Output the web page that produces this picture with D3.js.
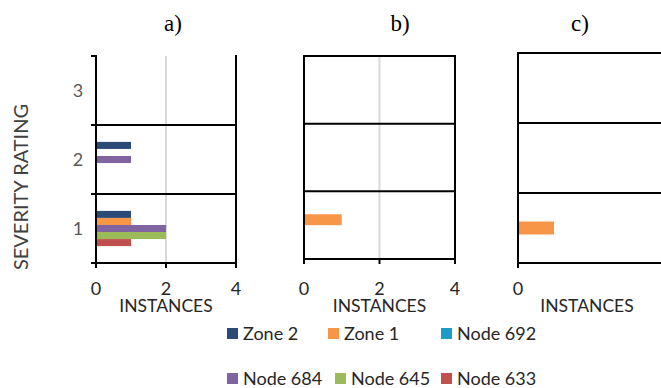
<!DOCTYPE html>
<html>
<head>
<meta charset="utf-8">
<script src="https://cdn.jsdelivr.net/npm/d3@7"></script>
<style>
  body { margin: 0; background: #fff; overflow: hidden; }
  svg { display: block; }
</style>
</head>
<body>
<div id="chart"></div>
<script>
// categories, top to bottom as drawn
const categories = ["3", "2", "1"];
const seriesNames = ["Zone 2", "Zone 1", "Node 692", "Node 684", "Node 645", "Node 633"];
const seriesColors = ["#2b4a78", "#f79646", "#1d9cc8", "#8064a2", "#9bbb59", "#c0504d"];

// per panel: which series take a slot, and their values for categories 3, 2, 1
const panelASeries = ["Zone 2", "Zone 1", "Node 684", "Node 645", "Node 633"];
const panelAValues = [[0, 1, 1], [0, 0, 1], [0, 1, 2], [0, 0, 2], [0, 0, 1]];
const panelBSeries = ["Zone 1", "Node 692"];
const panelBValues = [[0, 0, 1], [0, 0, 0]];
const panelCSeries = ["Zone 1"];
const panelCValues = [[0, 0, 1]];

const xTicksAB = [0, 2, 4];
const xTicksC = [0];

const W = 661, H = 388;
const color = d3.scaleOrdinal().domain(seriesNames).range(seriesColors);
const sans = "Lato, 'Open Sans', sans-serif";

const svg = d3.select("#chart").append("svg")
  .attr("width", W)
  .attr("height", H);

function drawPanel(p) {
  const g = svg.append("g");
  const x = d3.scaleLinear().domain([0, 4]).range([p.x0, p.x1]);
  const y = d3.scaleBand().domain(categories).range([p.y0, p.y1]).padding(0);
  const inner = d3.scaleBand().domain(p.series).range([0, y.bandwidth()])
    .paddingInner(0).paddingOuter(p.outer);

  // light gridline at 2
  if (p.grid) {
    g.append("line")
      .attr("x1", x(2)).attr("x2", x(2))
      .attr("y1", p.y0).attr("y2", p.y1)
      .attr("stroke", "#d9d9d9").attr("stroke-width", 2);
  }

  // bars
  p.series.forEach((s, i) => {
    g.selectAll(null)
      .data(p.values[i].map((v, j) => ({ v, cat: categories[j] })).filter(d => d.v > 0))
      .enter()
      .append("rect")
      .attr("x", x(0))
      .attr("y", d => y(d.cat) + inner(s))
      .attr("width", d => x(d.v) - x(0))
      .attr("height", inner.bandwidth())
      .attr("fill", color(s));
  });

  // band boundaries (horizontal black lines)
  const bounds = categories.map(c => y(c)).concat([p.y1]);
  bounds.forEach((b, i) => {
    if (i === 0 && !p.topLine) return;
    g.append("line")
      .attr("x1", p.leftTicks ? p.x0 - 5 : p.x0).attr("x2", Math.min(p.x1, W + 5))
      .attr("y1", b).attr("y2", b)
      .attr("stroke", "#000").attr("stroke-width", 2);
  });
  if (p.leftTicks && !p.topLine) {
    g.append("line")
      .attr("x1", p.x0 - 5).attr("x2", p.x0)
      .attr("y1", p.y0).attr("y2", p.y0)
      .attr("stroke", "#000").attr("stroke-width", 2);
  }

  // left axis line
  g.append("line")
    .attr("x1", p.x0).attr("x2", p.x0)
    .attr("y1", p.y0 - 1).attr("y2", p.y1 + 5)
    .attr("stroke", "#000").attr("stroke-width", 2);

  // right border
  if (p.rightLine) {
    g.append("line")
      .attr("x1", p.x1).attr("x2", p.x1)
      .attr("y1", p.y0 - 1).attr("y2", p.y1 + 5)
      .attr("stroke", "#000").attr("stroke-width", 2);
  }

  // bottom ticks and labels
  p.ticks.forEach(t => {
    g.append("line")
      .attr("x1", x(t)).attr("x2", x(t))
      .attr("y1", p.y1).attr("y2", p.y1 + 5)
      .attr("stroke", "#000").attr("stroke-width", 2);
    g.append("text")
      .attr("x", x(t)).attr("y", 295)
      .attr("text-anchor", "middle")
      .style("font-family", sans).style("font-size", "18px")
      .attr("fill", "#262626")
      .text(t);
  });

  g.append("text")
    .attr("x", (x(0) + x(4)) / 2 + (p.labelShift || 0)).attr("y", 312)
    .attr("text-anchor", "middle")
    .style("font-family", sans).style("font-size", "17.5px")
    .attr("fill", "#262626")
    .text("INSTANCES");

  if (p.yLabels) {
    categories.forEach(c => {
      g.append("text")
        .attr("x", 78).attr("y", y(c) + y.bandwidth() / 2 + 6)
        .attr("text-anchor", "middle")
        .style("font-family", sans).style("font-size", "18px")
        .attr("fill", "#595959")
        .text(c);
    });
  }

  g.append("text")
    .attr("x", p.titleX).attr("y", 31)
    .attr("text-anchor", "middle")
    .style("font-family", "'Liberation Serif', 'Times New Roman', serif")
    .style("font-size", "23px")
    .attr("fill", "#000")
    .text(p.title);
}

drawPanel({ title: "a)", titleX: 173, x0: 96, x1: 236, y0: 56, y1: 263,
  series: panelASeries, values: panelAValues, outer: 2.4,
  grid: true, topLine: false, rightLine: true, leftTicks: true,
  ticks: xTicksAB, yLabels: true });

drawPanel({ title: "b)", titleX: 400, x0: 304, x1: 455, y0: 56, y1: 259,
  series: panelBSeries, values: panelBValues, outer: 2.1,
  grid: true, topLine: true, rightLine: true, leftTicks: false,
  ticks: xTicksAB, yLabels: false });

drawPanel({ title: "c)", titleX: 580, x0: 518, x1: 662, y0: 53, y1: 263,
  series: panelCSeries, values: panelCValues, outer: 2.2,
  grid: false, topLine: true, rightLine: false, leftTicks: false,
  ticks: xTicksC, yLabels: false, labelShift: -3 });

// y axis title
svg.append("text")
  .attr("transform", "translate(28,187) rotate(-90)")
  .attr("text-anchor", "middle")
  .style("font-family", sans).style("font-size", "20px")
  .attr("fill", "#404040")
  .text("SEVERITY RATING");

// legend
const legendPos = [[227, 334], [328, 334], [441, 334], [227, 379], [335, 379], [441, 379]];
const legend = svg.append("g");
seriesNames.forEach((s, i) => {
  const [lx, ly] = legendPos[i];
  legend.append("rect")
    .attr("x", lx).attr("y", ly - 6)
    .attr("width", 11).attr("height", 11)
    .attr("fill", color(s));
  legend.append("text")
    .attr("x", lx + 16).attr("y", ly + 6)
    .style("font-family", sans).style("font-size", "18px")
    .attr("fill", "#262626")
    .text(s);
});
</script>
</body>
</html>
